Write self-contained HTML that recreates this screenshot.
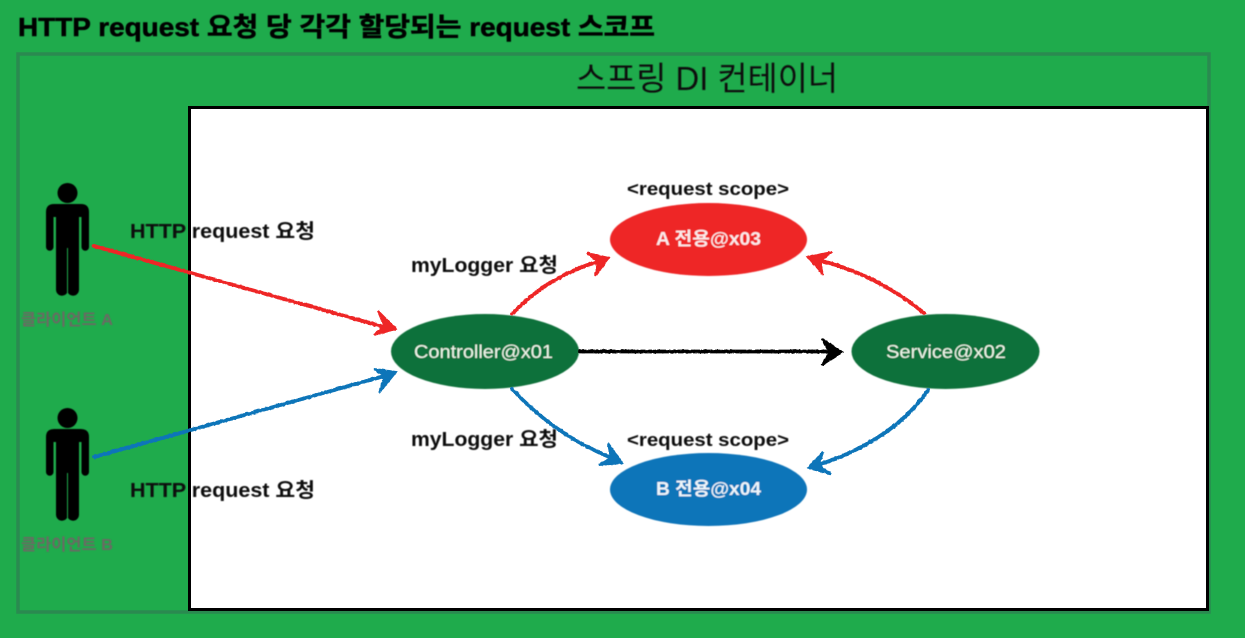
<!DOCTYPE html>
<html>
<head>
<meta charset="utf-8">
<style>
html,body{margin:0;padding:0;background:#1fab4c;width:1245px;height:638px;overflow:hidden}
svg{display:block}
text{font-family:"Liberation Sans","Noto Sans CJK KR",sans-serif}
.b{font-weight:700}
</style>
</head>
<body>
<svg width="1245" height="638" viewBox="0 0 1245 638" xmlns="http://www.w3.org/2000/svg">
<defs>
<filter id="rough" x="-10%" y="-10%" width="120%" height="120%" filterUnits="objectBoundingBox">
<feTurbulence type="fractalNoise" baseFrequency="0.35" numOctaves="2" seed="3"/>
<feDisplacementMap in="SourceGraphic" scale="2" xChannelSelector="R" yChannelSelector="G"/>
</filter>
<filter id="soft"><feGaussianBlur stdDeviation="0.4"/></filter>
<g id="person">
<circle cx="67.5" cy="193" r="10"/>
<path d="M54 204H81Q89 204 89 212V247a3.7 3.7 0 0 1-7.5 0V217H79V290a6 6 0 0 1-11 3V248H67V293a6 6 0 0 1-11-3V217H53.5V247a3.7 3.7 0 0 1-7.5 0V212Q46 204 54 204Z"/>
</g>
</defs>
<rect width="1245" height="638" fill="#1fab4c"/>
<rect x="18" y="54" width="1191" height="558" fill="none" stroke="#2a8a50" stroke-width="3.5"/>
<rect x="189.500" y="107.500" width="1018" height="502" fill="#fff" stroke="#000" stroke-width="3"/>

<g filter="url(#soft)">
<text class="b" x="18" y="36" font-size="26" textLength="637" lengthAdjust="spacingAndGlyphs" fill="#000" stroke="#000" stroke-width="0.5">HTTP request 요청 당 각각 할당되는 request 스코프</text>
<text x="576" y="90" font-size="33" textLength="262" lengthAdjust="spacingAndGlyphs" fill="#111">스프링 DI 컨테이너</text>

<use href="#person" fill="#000"/>
<use href="#person" y="225" fill="#000"/>
<text class="b" x="21" y="325" font-size="16" textLength="92" lengthAdjust="spacingAndGlyphs" fill="#6a6a64">클라이언트 A</text>
<text class="b" x="21" y="550" font-size="16" textLength="92" lengthAdjust="spacingAndGlyphs" fill="#6a6a64">클라이언트 B</text>

<ellipse cx="485" cy="351.500" rx="94" ry="37.500" fill="#11713a"/>
<ellipse cx="945.500" cy="351.500" rx="94" ry="37.500" fill="#11713a"/>
<ellipse cx="708.500" cy="239.500" rx="98.500" ry="36.500" fill="#ee2527"/>
<ellipse cx="708.500" cy="489.500" rx="98.500" ry="36.500" fill="#0e75b9"/>

<text class="b" x="130" y="238" font-size="20" textLength="185" lengthAdjust="spacingAndGlyphs" fill="#0a0a0a">HTTP request 요청</text>
<text class="b" x="130" y="497" font-size="20" textLength="185" lengthAdjust="spacingAndGlyphs" fill="#0a0a0a">HTTP request 요청</text>
<text class="b" x="411" y="272" font-size="20" textLength="147" lengthAdjust="spacingAndGlyphs" fill="#0a0a0a">myLogger 요청</text>
<text class="b" x="411" y="446" font-size="20" textLength="147" lengthAdjust="spacingAndGlyphs" fill="#0a0a0a">myLogger 요청</text>
<text class="b" x="627" y="195" font-size="18" textLength="162" lengthAdjust="spacingAndGlyphs" fill="#0a0a0a">&lt;request scope&gt;</text>
<text class="b" x="627" y="446" font-size="18" textLength="162" lengthAdjust="spacingAndGlyphs" fill="#0a0a0a">&lt;request scope&gt;</text>

<text class="b" x="656" y="245" font-size="18" textLength="105" lengthAdjust="spacingAndGlyphs" fill="#fbeaea">A 전용@x03</text>
<text class="b" x="656" y="495" font-size="18" textLength="105" lengthAdjust="spacingAndGlyphs" fill="#eef5fa">B 전용@x04</text>
<text x="414" y="358" font-size="18.500" textLength="139" lengthAdjust="spacingAndGlyphs" fill="#eef6ea">Controller@x01</text>
<text x="886" y="358" font-size="18.500" textLength="120" lengthAdjust="spacingAndGlyphs" fill="#eef6ea">Service@x02</text>
</g>

<g fill="none" stroke-width="3.800" stroke-linecap="round" stroke-linejoin="miter" filter="url(#rough)">
<g stroke="#ee2527">
<path d="M94 246L388 328"/>
<path fill="#ee2527" stroke-width="2" d="M378 311L396 329L374 335L384 325.500Z"/>
<path d="M512 314Q548 276 600 261"/>
<path fill="#ee2527" stroke-width="2" d="M587 253L609 258L595 276L598 262Z"/>
<path d="M924 313Q876 274 818 260"/>
<path fill="#ee2527" stroke-width="2" d="M832 252L808 257L823 275L820 261Z"/>
</g>
<g stroke="#0e75b9">
<path d="M94 457L388 375"/>
<path fill="#0e75b9" stroke-width="2" d="M374 369L396 372L379 393L385 376Z"/>
<path d="M512 389Q556 436 612 458"/>
<path fill="#0e75b9" stroke-width="2" d="M608 443L622 463L599 465L611 458Z"/>
<path d="M928 390Q894 440 818 465"/>
<path fill="#0e75b9" stroke-width="2" d="M823 452L808 468L831 474L819 465Z"/>
</g>
<g stroke="#000">
<path d="M580 351.500H832"/>
<path fill="#000" stroke-width="2" d="M822 339L842 352L822 365L830 352Z"/>
</g>
</g>
</svg>
</body>
</html>
